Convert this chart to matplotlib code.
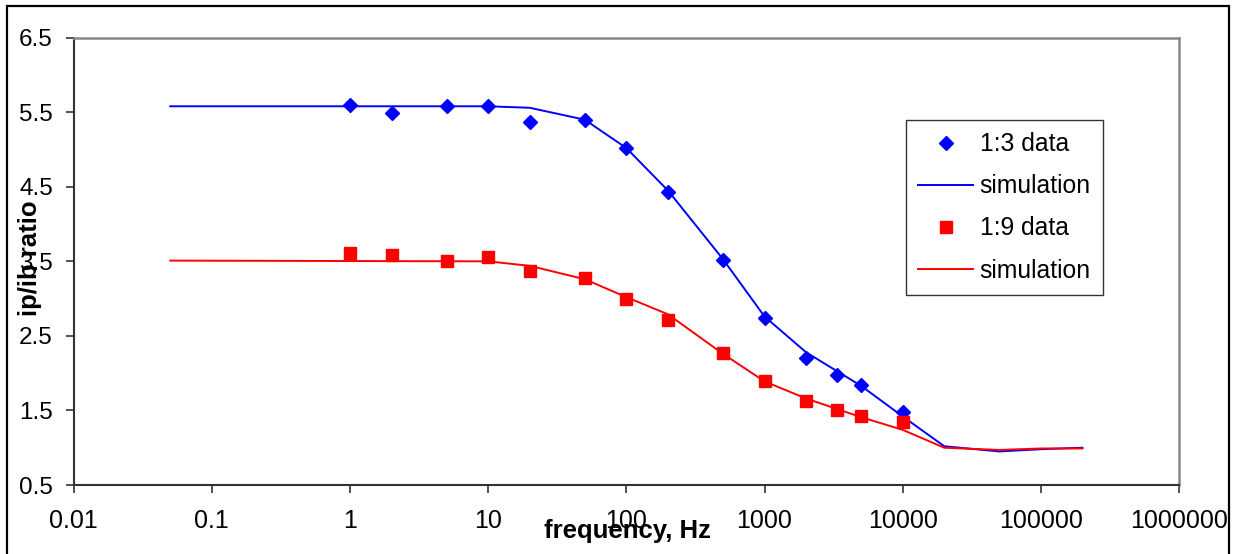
import matplotlib
matplotlib.use("Agg")
import matplotlib.pyplot as plt
from matplotlib.patches import Rectangle
from matplotlib.ticker import FixedLocator, FixedFormatter, NullLocator

plt.rcParams['font.family'] = ['Liberation Sans', 'DejaVu Sans']

# 1:3 data
freq_13 = [1, 2, 5, 10, 20, 50, 100, 200, 500, 1000, 2000, 3333, 5000, 10000]
ratio_13 = [5.60, 5.49, 5.58, 5.58, 5.37, 5.40, 5.02, 4.43, 3.52, 2.74, 2.21, 1.97, 1.84, 1.48]

# 1:9 data
freq_19 = [1, 2, 5, 10, 20, 50, 100, 200, 500, 1000, 2000, 3333, 5000, 10000]
ratio_19 = [3.61, 3.59, 3.50, 3.56, 3.37, 3.27, 3.00, 2.71, 2.27, 1.90, 1.63, 1.50, 1.42, 1.34]

# simulations
sim_freq = [0.05, 10, 20, 50, 100, 200, 500, 1000, 2000, 5000, 10000, 20000, 50000, 100000, 200000]
sim_13 = [5.58, 5.58, 5.56, 5.40, 5.02, 4.45, 3.53, 2.76, 2.28, 1.83, 1.42, 1.02, 0.95, 0.98, 1.00]
sim_19 = [3.51, 3.50, 3.44, 3.26, 3.02, 2.79, 2.26, 1.89, 1.66, 1.41, 1.24, 1.00, 0.97, 0.99, 0.99]

x_ticks = [0.01, 0.1, 1, 10, 100, 1000, 10000, 100000, 1000000]
x_tick_labels = ["0.01", "0.1", "1", "10", "100", "1000", "10000", "100000", "1000000"]
y_ticks = [0.5, 1.5, 2.5, 3.5, 4.5, 5.5, 6.5]
y_tick_labels = ["0.5", "1.5", "2.5", "3.5", "4.5", "5.5", "6.5"]

W, H = 1239, 554
fig = plt.figure(figsize=(W / 100, H / 100), dpi=100)
ax = fig.add_axes([73.7 / W, 1 - 485 / H, (1179 - 73.7) / W, (485 - 37.7) / H])

ax.plot(freq_13, ratio_13, linestyle='none', marker='D', ms=7, color='#0000FF',
        mec='#0000FF', label='1:3 data', zorder=4)
ax.plot(sim_freq, sim_13, color='#0000FF', lw=1.4, label='simulation', zorder=3)
ax.plot(freq_19, ratio_19, linestyle='none', marker='s', ms=8.5, color='#FF0000',
        mec='#FF0000', label='1:9 data', zorder=4)
ax.plot(sim_freq, sim_19, color='#FF0000', lw=1.4, label='simulation', zorder=3)

ax.set_xscale('log')
ax.set_xlim(0.01, 1000000)
ax.set_ylim(0.5, 6.5)
ax.xaxis.set_major_locator(FixedLocator(x_ticks))
ax.xaxis.set_major_formatter(FixedFormatter(x_tick_labels))
ax.xaxis.set_minor_locator(NullLocator())
ax.yaxis.set_major_locator(FixedLocator(y_ticks))
ax.yaxis.set_major_formatter(FixedFormatter(y_tick_labels))

ax.tick_params(axis='both', direction='out', length=6, width=1.2, color='#333333',
               labelcolor='black')
ax.tick_params(axis='y', pad=9, labelsize=17.5)
ax.tick_params(axis='x', pad=11, labelsize=18)

for s in ['left', 'bottom']:
    ax.spines[s].set_color('#333333')
    ax.spines[s].set_linewidth(1.5)
for s in ['top', 'right']:
    ax.spines[s].set_color('#888888')
    ax.spines[s].set_linewidth(1.8)

fig.text(627 / W, 1 - 531 / H, 'frequency, Hz', ha='center', va='center',
         fontsize=18.5, fontweight='bold')
fig.text(30 / W, 1 - 258 / H, 'ip/ib ratio', ha='center', va='center',
         fontsize=18.5, fontweight='bold', rotation=90)

leg = ax.legend(loc='upper left', bbox_to_anchor=(906 / W, 1 - 120 / H),
                bbox_transform=fig.transFigure, fontsize=17.8, frameon=True,
                fancybox=False, shadow=False, handlelength=2.2, labelspacing=0.73,
                borderpad=0.5, handletextpad=0.28, borderaxespad=0)
leg.get_frame().set_edgecolor('black')
leg.get_frame().set_linewidth(1.0)

fig.patches.append(Rectangle((7 / W, -0.05), (1229 - 7) / W, 1.05 - 6 / H,
                             transform=fig.transFigure, fill=False, lw=1.6,
                             ec='black', clip_on=False))

fig.savefig('out.png', dpi=100)
